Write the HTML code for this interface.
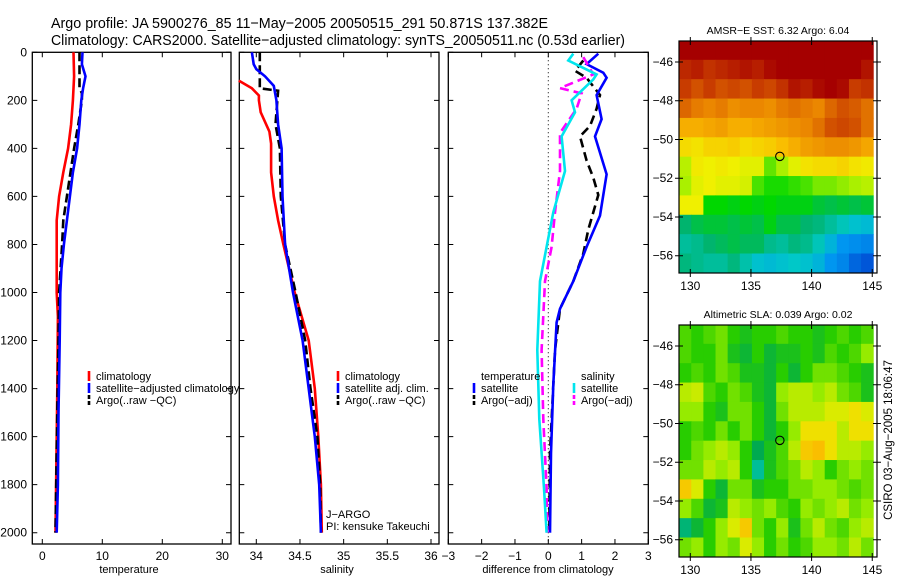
<!DOCTYPE html>
<html><head><meta charset="utf-8"><style>
html,body{margin:0;padding:0;background:#fff;}
svg{display:block;font-family:"Liberation Sans",sans-serif;}
</style></head><body>
<svg id="fig" width="900" height="580" viewBox="0 0 900 580" xmlns="http://www.w3.org/2000/svg">
<text x="51" y="28" font-size="15" textLength="497" lengthAdjust="spacingAndGlyphs">Argo profile: JA 5900276_85 11−May−2005 20050515_291 50.871S 137.382E</text>
<text x="51" y="45" font-size="15" textLength="574" lengthAdjust="spacingAndGlyphs">Climatology: CARS2000. Satellite−adjusted climatology: synTS_20050511.nc (0.53d earlier)</text>
</svg>
<script>
// ---------- data ----------
const tDepth = [0,100,200,300,400,500,600,700,800,1000,1100,1400,1600,2000];
const tClim  = [5.2,5.3,5.1,4.8,4.3,3.5,2.8,2.4,2.4,2.4,2.6,2.5,2.4,2.2];
const tSatDepth = [0,50,100,150,200,300,400,500,600,700,800,900,1000,1200,1500,1800,2000];
const tSat   = [6.7,6.6,7.2,6.8,6.5,6.2,5.8,5.1,4.6,4.1,3.6,3.2,3.0,2.9,2.7,2.6,2.4];
const tArgoDepth = [0,100,150,170,200,300,400,500,600,700,800,1000,1200,1500,2000];
const tArgo  = [6.2,6.2,6.2,6.6,6.6,6.0,5.3,4.7,4.1,3.5,3.3,2.8,2.7,2.5,2.2];

const sClimDepth = [118,150,180,200,250,330,380,500,600,700,800,1000,1200,1400,1600,1800,2000];
const sClim  = [33.8,33.95,34.03,34.03,34.05,34.15,34.17,34.17,34.2,34.25,34.31,34.44,34.6,34.67,34.71,34.74,34.75];
const sSatDepth = [0,50,70,100,140,200,300,400,600,800,1000,1200,1400,1600,1800,2000];
const sSat   = [33.95,33.97,34.0,34.1,34.2,34.23,34.25,34.29,34.3,34.33,34.42,34.53,34.6,34.67,34.72,34.74];
const sArgoDepth = [0,150,160,300,400,600,800,1000,1200,1400,1600,1800,2000];
const sArgo  = [34.04,34.04,34.25,34.22,34.27,34.28,34.33,34.45,34.56,34.62,34.7,34.73,34.74];

const dTSatDepth = [6,49,85,106,178,278,350,508,680,810,953,1068,1125,1383,1670,2000];
const dTSat  = [1.5,1.15,1.65,1.75,1.45,1.6,1.4,1.75,1.55,1.15,0.75,0.35,0.25,0.15,0.08,0.05];
const dTArgoDepth = [34,77,106,178,235,307,350,451,522,594,738,838,953,1068,1240,1670,2000];
const dTArgo = [1.05,0.8,1.15,1.55,1.45,1.25,0.95,1.15,1.35,1.5,1.2,1.05,0.75,0.35,0.2,0.05,0.03];
const dSSatDepth = [6,34,92,113,200,250,350,494,666,810,953,1240,1527,1814,2000];
const dSSat  = [0.75,0.6,1.45,1.35,0.7,0.8,0.4,0.5,0.15,-0.05,-0.25,-0.33,-0.27,-0.13,-0.05];
const dSArgoDepth = [20,92,149,171,235,336,494,666,810,953,1240,1527,1814,2000];
const dSArgo = [1.05,1.35,0.35,1.0,0.85,0.35,0.35,0.2,0.1,-0.1,-0.2,-0.15,-0.05,-0.03];

const depthTicks = [0,200,400,600,800,1000,1200,1400,1600,1800,2000];
const tempTicks = [0,10,20,30];
const salTicks = [34,34.5,35,35.5,36];
const salTickLabels = ["34","34.5","35","35.5","36"];
const diffTicks = [-3,-2,-1,0,1,2,3];
const diffTickLabels = ["−3","−2","−1","0","1","2","3"];

const mapLons = [129.6,130.6,131.6,132.6,133.6,134.6,135.6,136.6,137.6,138.6,139.6,140.6,141.6,142.6,143.6,144.6];
const mapLats = [-45.4,-46.4,-47.4,-48.4,-49.4,-50.4,-51.4,-52.4,-53.4,-54.4,-55.4,-56.4];
const sstGrid = [
[9,9,9,9,9,9,9,9,9,9,9,9,9,9,9,9],
[8.4,8.5,8.3,8.4,8.5,8.6,8.5,8.7,9,9,9,9,9,9,8.8,8.6],
[8.2,8.0,8.2,8.0,8.1,8.0,8.2,8.1,8.3,8.6,8.5,8.7,8.8,8.7,8.2,8.3],
[7.8,7.6,7.5,7.6,7.4,7.5,7.5,7.4,7.6,7.7,7.6,7.5,7.8,8.0,7.9,7.7],
[7.0,7.0,7.1,7.2,7.0,7.0,7.1,7.2,7.3,7.4,7.5,7.7,8.0,8.1,8.0,7.7],
[6.4,6.3,6.5,6.5,6.6,6.4,6.5,6.6,6.8,7.0,7.2,7.3,7.4,7.4,7.3,7.1],
[5.7,6.2,6.1,6.2,6.1,6.0,6.0,5.3,5.6,6.0,6.3,6.4,6.4,6.5,6.3,6.2],
[5.6,6.0,6.1,6.0,6.0,5.9,5.2,5.0,5.0,5.1,5.2,5.4,5.4,5.5,5.6,5.7],
[6.1,6.1,4.9,4.9,4.8,4.9,4.8,4.9,4.8,4.8,4.8,4.6,4.5,4.6,4.5,4.6],
[4.3,4.5,4.6,4.6,4.5,4.6,4.5,4.8,4.5,4.5,4.3,4.2,4.0,3.8,3.6,3.5],
[4.0,4.1,4.3,4.4,4.5,4.4,4.4,4.1,4.0,4.2,4.1,3.8,3.4,3.0,2.9,2.8],
[4.2,4.1,4.0,4.0,4.2,3.9,3.6,3.5,3.6,3.7,3.6,3.4,3.0,2.8,2.4,2.2]];
const slaGrid = [
[0.1,0.0,0.1,0.2,0.0,-0.1,0.0,0.0,0.1,0.0,0.0,-0.1,0.0,0.1,0.0,0.1],
[0.1,0.0,0.0,0.2,-0.1,-0.2,0.0,-0.2,-0.1,-0.1,0.0,-0.1,0.1,0.0,0.1,0.3],
[0.0,0.1,0.0,0.2,0.1,-0.1,-0.1,-0.2,0.0,-0.2,0.0,0.2,0.2,0.1,0.0,-0.1],
[0.4,0.45,0.1,0.0,0.2,0.1,-0.1,-0.2,0.3,0.4,0.4,0.3,0.4,0.2,0.1,-0.1],
[0.3,0.3,0.0,-0.1,0.2,0.2,0.0,-0.2,0.2,0.4,0.4,0.4,0.5,0.5,0.6,0.5],
[0.0,0.1,0.0,0.2,0.0,0.2,0.0,-0.2,0.0,0.3,0.6,0.6,0.6,0.4,0.6,0.6],
[0.0,0.2,0.3,0.4,0.3,0.0,-0.3,-0.1,0.1,0.4,0.7,0.75,0.6,0.4,0.4,0.3],
[0.2,0.2,0.4,0.3,0.4,0.0,-0.5,-0.1,0.1,0.2,0.4,0.3,0.0,0.2,0.3,0.2],
[0.7,0.5,0.0,-0.2,0.2,0.2,-0.1,0.0,0.0,0.2,0.2,0.3,0.3,0.2,0.1,0.2],
[0.3,0.1,-0.2,-0.1,0.4,0.3,0.2,0.3,0.1,0.0,0.3,0.2,0.3,0.4,0.2,0.3],
[-0.4,-0.2,0.0,0.3,0.5,0.7,0.2,0.0,0.3,-0.1,0.2,0.4,0.2,0.1,0.3,0.4],
[0.2,0.3,0.0,0.3,0.2,0.5,0.3,0.0,0.2,0.0,0.1,0.3,0.3,0.2,0.4,0.2]];
const argoLon = 137.382, argoLat = -50.871;
const lonTicks = [130,135,140,145];
const latTicks = [-46,-48,-50,-52,-54,-56];
const latTickLabels = ["−46","−48","−50","−52","−54","−56"];

// ---------- helpers ----------
const NS = "http://www.w3.org/2000/svg";
const svg = document.getElementById('fig');
function mk(tag, attrs, parent){
  const e = document.createElementNS(NS, tag);
  for (const k in attrs) e.setAttribute(k, attrs[k]);
  (parent||svg).appendChild(e);
  return e;
}
const yD = d => 52.3 + d * 0.2402;
const xT = v => 42.3 + v * 6.0;
const xS = v => 256.3 + (v - 34) * 87.35;
const xDf = v => 548.3 + v * 33.33;

function frame(x0, x1, name){
  const r = mk('rect',{x:x0,y:52.3,width:x1-x0,height:491.7,fill:'none',stroke:'#000','stroke-width':1.3});
  
  
  depthTicks.forEach(d=>{
    const y=yD(d);
    const a=mk('path',{d:`M${x0} ${y}h5M${x1} ${y}h-5`,stroke:'#000','stroke-width':1});
    
    
  });
}
function xTicks(ticks, labels, fx, title, titleX){
  ticks.forEach((t,i)=>{
    const x=fx(t);
    const a=mk('path',{d:`M${x} 52.3v5M${x} 544v-5`,stroke:'#000','stroke-width':1});
    
    
    const l=mk('text',{x:x,y:560,'font-size':12,'text-anchor':'middle'});
    l.textContent=labels[i];
    
    
  });
  const tt=mk('text',{x:titleX,y:573,'font-size':11,'text-anchor':'middle'});
  tt.textContent=title;
  
  
}
function line(depths, vals, fx, color, dash, name){
  const pts = depths.map((d,i)=>fx(vals[i]).toFixed(1)+','+yD(d).toFixed(1)).join(' ');
  const p=mk('polyline',{points:pts,fill:'none',stroke:color,'stroke-width':2.6,'stroke-dasharray':dash||'none','stroke-linejoin':'miter'});
  
  
}
function legend(x, y, color, dash, label, name){
  const m=mk('line',{x1:x,y1:y-9,x2:x,y2:y+1,stroke:color,'stroke-width':2.6,'stroke-dasharray':dash||'none'});
  
  
  const t=mk('text',{x:x+7,y:y,'font-size':11});
  t.textContent=label;
  
  
}
function txt(x,y,s,name,size,anchor){
  const t=mk('text',{x:x,y:y,'font-size':size||11,'text-anchor':anchor||'start'});
  t.textContent=s;
  
  
  return t;
}

// ---------- panel 1: temperature ----------
frame(32.3, 231, 'temperature-panel-frame');
depthTicks.forEach(d=>{
  txt(27, yD(d)+4, String(d), 'depth-tick-label', 12, 'end');
});
xTicks(tempTicks, tempTicks.map(String), xT, 'temperature', 129);
line(tDepth, tClim, xT, '#ff0000', null, 'temperature-climatology-line');
line(tArgoDepth, tArgo, xT, '#000000', '9,4', 'temperature-argo-line');
line(tSatDepth, tSat, xT, '#0000ff', null, 'temperature-satellite-line');
legend(89, 380, '#ff0000', null, 'climatology', 'legend-climatology');
legend(89, 392, '#0000ff', null, 'satellite−adjusted climatology', 'legend-satellite-adjusted');
legend(89, 404, '#000000', '4,2', 'Argo(..raw −QC)', 'legend-argo');

// ---------- panel 2: salinity ----------
frame(239.3, 439, 'salinity-panel-frame');
xTicks(salTicks, salTickLabels, xS, 'salinity', 337);
line(sClimDepth, sClim, xS, '#ff0000', null, 'salinity-climatology-line');
line(sArgoDepth, sArgo, xS, '#000000', '9,4', 'salinity-argo-line');
line(sSatDepth, sSat, xS, '#0000ff', null, 'salinity-satellite-line');
legend(338, 380, '#ff0000', null, 'climatology', 'legend-sal-climatology');
legend(338, 392, '#0000ff', null, 'satellite adj. clim.', 'legend-sal-satellite');
legend(338, 404, '#000000', '4,2', 'Argo(..raw −QC)', 'legend-sal-argo');
txt(326, 518, 'J−ARGO', 'float-program-label', 11);
txt(326, 530, 'PI: kensuke Takeuchi', 'pi-label', 11);

// ---------- panel 3: differences ----------
frame(448.3, 648.3, 'difference-panel-frame');
xTicks(diffTicks, diffTickLabels, xDf, 'difference from climatology', 548);
const zl=mk('line',{x1:xDf(0),y1:52.3,x2:xDf(0),y2:544,stroke:'#000','stroke-width':1,'stroke-dasharray':'1,3'});


line(dTArgoDepth, dTArgo, xDf, '#000000', '9,5', 'temp-diff-argo-line');
line(dTSatDepth, dTSat, xDf, '#0000ff', null, 'temp-diff-satellite-line');
line(dSArgoDepth, dSArgo, xDf, '#ff00ff', '9,5', 'sal-diff-argo-line');
line(dSSatDepth, dSSat, xDf, '#00e5ee', null, 'sal-diff-satellite-line');
txt(481, 380, 'temperature', 'legend-temperature-header', 11);
legend(474, 392, '#0000ff', null, 'satellite', 'legend-temp-satellite');
legend(474, 404, '#000000', '4,2', 'Argo(−adj)', 'legend-temp-argo');
txt(581, 380, 'salinity', 'legend-salinity-header', 11);
legend(574, 392, '#00e5ee', null, 'satellite', 'legend-sal-diff-satellite');
legend(574, 404, '#ff00ff', '4,2', 'Argo(−adj)', 'legend-sal-diff-argo');

// ---------- maps ----------
function lerpColor(stops, v){
  if (v<=stops[0][0]) return stops[0][1];
  for (let i=1;i<stops.length;i++){
    if (v<=stops[i][0]){
      const [a,ca]=stops[i-1],[b,cb]=stops[i];
      const f=(v-a)/(b-a);
      return ca.map((c,k)=>Math.round(c+(cb[k]-c)*f));
    }
  }
  return stops[stops.length-1][1];
}
const sstStops=[[2,[0,70,210]],[3,[0,150,240]],[3.7,[0,200,200]],[4.3,[0,180,110]],[4.9,[0,215,0]],[5.6,[170,240,0]],[6.1,[240,240,0]],[6.8,[250,190,0]],[7.5,[235,135,0]],[8.2,[200,60,0]],[8.8,[165,0,0]]];
const slaStops=[[-0.6,[0,200,190]],[-0.3,[0,170,80]],[0,[40,205,0]],[0.3,[150,235,0]],[0.55,[235,235,0]],[0.75,[250,190,0]],[0.9,[245,150,0]]];

function map(top, grid, stops, title, name){
  const x0=679, x1=877, y1=top+232;
  const xL = lon => 690.3 + (lon-130)*12.13;
  const yL = lat => top + 21 + (-46 - lat)*19.37;
  const g=mk('g',{});
  
  
  const cw=12.13*1.0+0.5, ch=19.37+0.5;
  grid.forEach((row,r)=>row.forEach((v,c)=>{
    const col=lerpColor(stops,v);
    const cell=mk('rect',{x:xL(mapLons[c])-cw/2,y:yL(mapLats[r])-ch/2,width:cw,height:ch,fill:`rgb(${col})`},g);
    
    
  }));
  const cp=mk('clipPath',{id:name+'-clip'});
  mk('rect',{x:x0,y:top,width:x1-x0,height:232},cp);
  g.setAttribute('clip-path',`url(#${name}-clip)`);
  const fr=mk('rect',{x:x0,y:top,width:x1-x0,height:232,fill:'none',stroke:'#000','stroke-width':1.2});
  
  
  latTicks.forEach((lat,i)=>{
    const y=yL(lat);
    const t=mk('path',{d:`M${x0-4} ${y}h8M${x1-4} ${y}h8`,stroke:'#000','stroke-width':1});
    
    
    txt(673, y+4, latTickLabels[i], 'lat-tick-label', 12, 'end');
  });
  lonTicks.forEach(lon=>{
    const x=xL(lon);
    const t=mk('path',{d:`M${x} ${top-4}v8M${x} ${y1-4}v8`,stroke:'#000','stroke-width':1});
    
    
    txt(x, y1+17, String(lon), 'lon-tick-label', 12, 'middle');
  });
  txt(778, top-7, title, name+'-title', 10.5, 'middle');
  const c=mk('circle',{cx:xL(argoLon),cy:yL(argoLat),r:4.2,fill:'none',stroke:'#000','stroke-width':1.1});
  
  
}
map(41, sstGrid, sstStops, 'AMSR−E SST: 6.32 Argo: 6.04', 'sst-map');
map(325, slaGrid, slaStops, 'Altimetric SLA: 0.039 Argo: 0.02', 'sla-map');
const stamp=txt(0,0,'CSIRO 03−Aug−2005 18:06:47','timestamp-label',11.5,'middle');
stamp.setAttribute('transform','translate(892,440) rotate(-90)');
</script>
</body></html>
